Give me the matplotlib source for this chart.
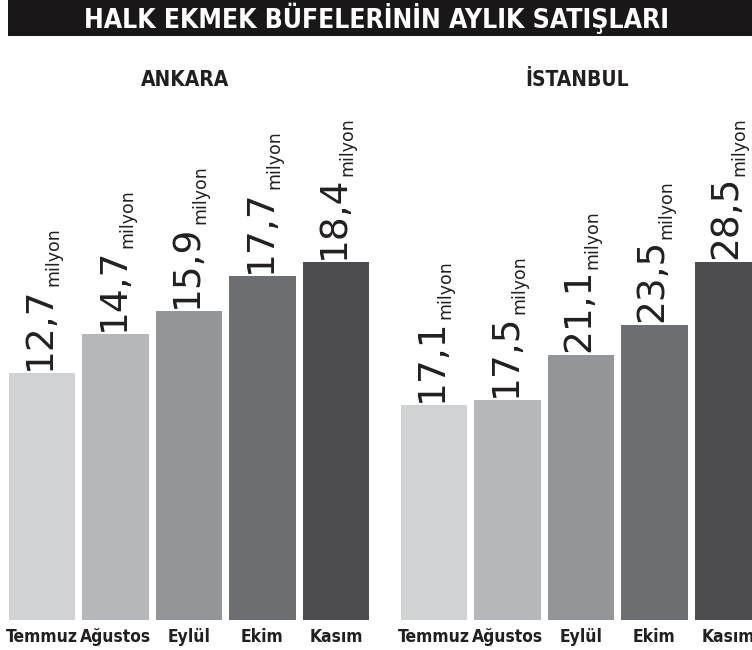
import matplotlib
matplotlib.use('Agg')
import matplotlib.pyplot as plt
from matplotlib.patches import Rectangle

# Veriler (milyon adet)
months = ['Temmuz', 'Ağustos', 'Eylül', 'Ekim', 'Kasım']
ankara = [12.7, 14.7, 15.9, 17.7, 18.4]
istanbul = [17.1, 17.5, 21.1, 23.5, 28.5]
ankara_labels = ['12,7', '14,7', '15,9', '17,7', '18,4']
istanbul_labels = ['17,1', '17,5', '21,1', '23,5', '28,5']
colors = ['#d1d2d4', '#b6b7ba', '#939598', '#6d6e71', '#4d4d4f']

W, H = 752, 650
fig = plt.figure(figsize=(W / 100, H / 100), dpi=100)
fig.patch.set_facecolor('white')

txt_color = '#231f20'
num_font = dict(family='DejaVu Sans', weight='normal', size=27)
small_font = dict(family='DejaVu Sans', weight='normal', size=12.5)
month_font = dict(family='DejaVu Sans', stretch='condensed', weight='bold', size=12.5)

# Başlık bandı
fig.patches.append(Rectangle((8 / W, 1 - 36 / H), 1, 36 / H, transform=fig.transFigure,
                             facecolor='#1a1718', edgecolor='none'))
fig.text(377 / W, 1 - 18 / H, 'HALK EKMEK BÜFELERİNİN AYLIK SATIŞLARI', color='white',
         ha='center', va='center', family='DejaVu Sans', stretch='condensed',
         weight='bold', size=19)


def panel(left_px, values, labels, title, title_x):
    pitch = 73.5
    ax = fig.add_axes([left_px / W, 30 / H, 5 * pitch / W, 358 / H])
    ax.bar(range(5), values, width=0.9, color=colors)
    ax.set_xlim(-0.5, 4.5)
    ax.set_ylim(0, max(values))
    for s in ax.spines.values():
        s.set_visible(False)
    ax.set_yticks([])
    ax.set_xticks(range(5))
    ax.set_xticklabels(months, color=txt_color, **month_font)
    ax.tick_params(axis='x', length=0, pad=6)
    for i, (v, lab) in enumerate(zip(values, labels)):
        t = ax.annotate(lab, xy=(i, v), xytext=(-1.5, 2), textcoords='offset points',
                        rotation=90, ha='center', va='bottom', color=txt_color,
                        annotation_clip=False, **num_font)
        ax.annotate('milyon', xy=(1, 1), xycoords=t, xytext=(3.5, 0),
                    textcoords='offset points', rotation=90, ha='right', va='bottom',
                    color=txt_color, annotation_clip=False, **small_font)
    fig.text(title_x / W, 1 - 80 / H, title, ha='center', va='center', color=txt_color,
             family='DejaVu Sans', weight='heavy', stretch='condensed', size=15)
    return ax


panel(5.25, ankara, ankara_labels, 'ANKARA', 185)
panel(397.25, istanbul, istanbul_labels, 'İSTANBUL', 577)

fig.savefig('out.png', dpi=100)
